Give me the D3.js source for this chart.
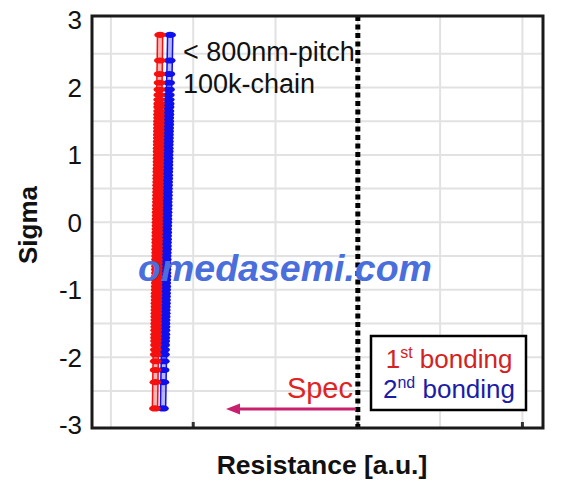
<!DOCTYPE html>
<html><head><meta charset="utf-8">
<script src="https://cdn.jsdelivr.net/npm/d3@7"></script>
<style>body{margin:0;background:#fff}svg{display:block}</style></head>
<body>
<svg id="c" width="564" height="489"></svg>
<script>
// ---- data ----
const sigma = [2.78,2.40,2.20,2.07,1.97,1.89,1.82,1.76,1.71,
 1.65,1.60,1.55,1.50,1.45,1.40,1.35,1.30,1.25,1.20,1.15,1.10,1.05,1.00,0.95,0.90,0.85,0.80,0.75,0.70,0.65,0.60,0.55,0.50,0.45,0.40,0.35,0.30,0.25,0.20,0.15,0.10,0.05,0.00,
 -0.05,-0.10,-0.15,-0.20,-0.25,-0.30,-0.35,-0.40,-0.45,-0.50,-0.55,-0.60,-0.65,-0.70,-0.75,-0.80,-0.85,-0.90,-0.95,-1.00,-1.05,-1.10,-1.15,-1.20,-1.25,-1.30,-1.35,-1.40,-1.45,-1.50,-1.55,-1.60,
 -1.66,-1.71,-1.76,-1.82,-1.89,-1.96,-2.06,-2.19,-2.37,-2.76];
const firstBonding = [1.597,1.594,1.591,1.590,1.588,1.587,1.586,1.586,1.585,
 1.585,1.584,1.584,1.583,1.583,1.582,1.582,1.581,1.581,1.580,1.580,1.579,1.579,1.578,1.578,1.577,1.577,1.576,1.575,1.575,1.574,1.573,1.573,1.572,1.571,1.571,1.570,1.569,1.569,1.568,1.567,1.567,1.566,1.565,
 1.565,1.564,1.564,1.563,1.563,1.562,1.562,1.561,1.561,1.560,1.560,1.559,1.559,1.558,1.558,1.557,1.557,1.556,1.556,1.555,1.555,1.554,1.554,1.553,1.553,1.552,1.552,1.551,1.551,1.550,1.550,1.549,
 1.549,1.548,1.548,1.547,1.546,1.545,1.544,1.542,1.540,1.535];
const secondBonding = [1.720,1.715,1.711,1.708,1.706,1.704,1.703,1.702,1.701,
 1.700,1.699,1.698,1.697,1.697,1.696,1.695,1.694,1.694,1.693,1.692,1.691,1.691,1.690,1.689,1.688,1.688,1.687,1.686,1.685,1.685,1.684,1.683,1.682,1.682,1.681,1.680,1.679,1.679,1.678,1.677,1.676,1.676,1.675,
 1.674,1.673,1.673,1.672,1.671,1.670,1.670,1.669,1.668,1.667,1.667,1.666,1.665,1.664,1.664,1.663,1.662,1.661,1.661,1.660,1.659,1.658,1.658,1.657,1.656,1.655,1.655,1.654,1.653,1.652,1.652,1.651,
 1.650,1.649,1.648,1.647,1.646,1.645,1.643,1.641,1.638,1.633];
const yTickValues = [3,2,1,0,-1,-2,-3];
const yGridValues = [2.5,2,1.5,1,0.5,0,-0.5,-1,-1.5,-2,-2.5];
const xGridValues = [1,2,3,4,5,6];
const xTickValues = [2,4,6];
const specValue = 4;
const annotation = ["< 800nm-pitch","100k-chain"];
const legendItems = [{n:"1",sup:"st",rest:" bonding",color:"#d42222"},{n:"2",sup:"nd",rest:" bonding",color:"#1c1ca6"}];

// ---- drawing ----
const FONT = "'Liberation Sans', Arial, sans-serif";
const svg = d3.select("#c");
const L=92, R=543, T=16, B=428;
const x = d3.scaleLinear().domain([0.77,6.25]).range([L,R]);
const y = d3.scaleLinear().domain([-3.05,3.06]).range([B,T]);

// grid
svg.append("g").selectAll("line").data(yGridValues).join("line")
  .attr("x1",L).attr("x2",R).attr("y1",d=>y(d)).attr("y2",d=>y(d))
  .attr("stroke","#e2e2e2").attr("stroke-width",2);
svg.append("g").selectAll("line").data(xGridValues).join("line")
  .attr("y1",T).attr("y2",B).attr("x1",d=>x(d)).attr("x2",d=>x(d))
  .attr("stroke","#e2e2e2").attr("stroke-width",2);

// bottom tick marks
svg.append("g").selectAll("rect").data(xTickValues).join("rect")
  .attr("x",d=>x(d)-1.5).attr("y",B-6).attr("width",3).attr("height",6).attr("fill","#333");

// series
const series = [
  {vals: secondBonding, color:"#1010ee", light:"#7a7af2"},
  {vals: firstBonding, color:"#f51010", light:"#f77a7a"}
];
series.forEach(s=>{
  const pts = sigma.map((sg,i)=>({s:sg,v:s.vals[i]}));
  const g = svg.append("g");
  g.append("path").datum(pts)
    .attr("d", d3.area().x0(d=>x(d.v)-3).x1(d=>x(d.v)+3).y(d=>y(d.s)))
    .attr("fill", s.light).attr("opacity",0.55);
  [-2.6,2.6].forEach(off=>{
    g.append("path").datum(pts)
      .attr("d", d3.line().x(d=>x(d.v)+off).y(d=>y(d.s)))
      .attr("fill","none").attr("stroke",s.color).attr("stroke-width",1.5);
  });
  g.selectAll("ellipse").data(pts).join("ellipse")
    .attr("cx",d=>x(d.v)).attr("cy",d=>y(d.s)).attr("rx",5.8).attr("ry",3.1)
    .attr("fill",s.color);
});

// spec line
svg.append("line").attr("x1",x(specValue)).attr("x2",x(specValue)).attr("y1",T).attr("y2",B)
  .attr("stroke","#000").attr("stroke-width",5).attr("stroke-dasharray","5,3.5");

// arrow
const ay = 409;
svg.append("line").attr("x1",x(specValue)-2).attr("x2",238).attr("y1",ay).attr("y2",ay)
  .attr("stroke","#c8206e").attr("stroke-width",3);
svg.append("path").attr("d",`M226,${ay} L240,${ay-5.5} L240,${ay+5.5} Z`).attr("fill","#c8206e");

// Spec text
svg.append("text").attr("x",353).attr("y",398).attr("text-anchor","end")
  .attr("font-family",FONT).attr("font-size",29).attr("fill","#e02424").text("Spec");

// frame
svg.append("rect").attr("x",L).attr("y",T).attr("width",R-L).attr("height",B-T)
  .attr("fill","none").attr("stroke","#1a1a1a").attr("stroke-width",3);

// annotation
annotation.forEach((t,i)=>{
  svg.append("text").attr("x",183).attr("y",61+i*32).attr("font-family",FONT)
    .attr("font-size",27).attr("fill","#111").text(t);
});

// legend
svg.append("rect").attr("x",371).attr("y",336).attr("width",155).attr("height",74)
  .attr("fill","#fff").attr("stroke","#000").attr("stroke-width",2.5);
legendItems.forEach((it,i)=>{
  const t = svg.append("text").attr("x",449).attr("y",368+i*30).attr("text-anchor","middle")
    .attr("font-family",FONT).attr("font-size",26).attr("fill",it.color);
  t.append("tspan").text(it.n);
  t.append("tspan").attr("font-size",16).attr("dy",-10).text(it.sup);
  t.append("tspan").attr("dy",10).text(it.rest);
});

// y tick labels
svg.append("g").selectAll("text").data(yTickValues).join("text")
  .attr("x",82).attr("y",d=>y(d)).attr("dy","0.36em").attr("text-anchor","end")
  .attr("font-family",FONT).attr("font-size",26).attr("fill","#111").text(d=>d);

// axis titles
svg.append("text").attr("transform","translate(37,225) rotate(-90)").attr("text-anchor","middle")
  .attr("font-family",FONT).attr("font-size",26).attr("font-weight","bold").attr("fill","#111").text("Sigma");
svg.append("text").attr("x",322).attr("y",474).attr("text-anchor","middle")
  .attr("font-family",FONT).attr("font-size",26.5).attr("font-weight","bold").attr("fill","#111").text("Resistance [a.u.]");

// watermark
svg.append("text").attr("x",285).attr("y",281).attr("text-anchor","middle")
  .attr("font-family",FONT).attr("font-size",37.5).attr("font-weight","bold").attr("font-style","italic")
  .attr("fill","#4a6fdc").text("omedasemi.com");
</script>
</body></html>
